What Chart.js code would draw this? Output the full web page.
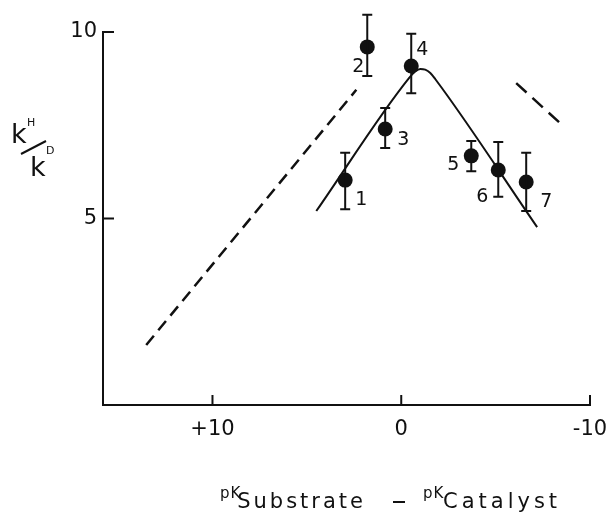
<!DOCTYPE html>
<html>
<head>
<meta charset="utf-8">
<script src="https://cdn.jsdelivr.net/npm/chart.js@4"></script>
<style>
  html, body { margin: 0; padding: 0; background: #fff; }
  #wrap { width: 608px; height: 512px; }
</style>
</head>
<body>
<div id="wrap"><canvas id="chart" width="608" height="512"></canvas></div>
<script>
// 測定点（番号・x・y・誤差範囲）
const pointLabels = ['1', '2', '3', '4', '5', '6', '7'];
const pointX = [2.97, 1.80, 0.85, -0.53, -3.71, -5.14, -6.62];
const pointY = [6.03, 9.60, 7.40, 9.09, 6.68, 6.30, 5.98];
const errHigh = [6.76, 10.46, 7.96, 9.95, 7.08, 7.05, 6.76];
const errLow = [5.25, 8.82, 6.89, 8.36, 6.27, 5.58, 5.20];

// 実線（理論曲線）
const fitX = [4.50, -0.42, -0.74, -1.01, -1.27, -1.54, -1.80, -7.20];
const fitY = [5.20, 8.77, 8.94, 9.01, 8.99, 8.90, 8.74, 4.77];

// 破線
const dashLeftX = [13.51, 2.38];
const dashLeftY = [1.61, 8.45];
const dashRightX = [-6.09, -8.58];
const dashRightY = [8.63, 7.48];

// 目盛り
const xTickValues = [10, 0, -10];
const yTickValues = [5, 10];

function toPoints(xs, ys) {
    return xs.map((x, i) => ({ x: x, y: ys[i] }));
}

const FONT = 'DejaVu Sans, sans-serif';
const INK = '#111';

// 誤差棒
const errorBarPlugin = {
    id: 'errorBars',
    afterDatasetsDraw(chart) {
        const ctx = chart.ctx;
        const xs = chart.scales.x, ys = chart.scales.y;
        ctx.save();
        ctx.strokeStyle = INK;
        ctx.lineWidth = 2;
        pointX.forEach((x, i) => {
            const px = xs.getPixelForValue(x);
            const top = ys.getPixelForValue(errHigh[i]);
            const bot = ys.getPixelForValue(errLow[i]);
            ctx.beginPath();
            ctx.moveTo(px, top); ctx.lineTo(px, bot);
            ctx.moveTo(px - 5, top); ctx.lineTo(px + 5, top);
            ctx.moveTo(px - 5, bot); ctx.lineTo(px + 5, bot);
            ctx.stroke();
        });
        ctx.restore();
    }
};

// 点の番号
const numberPlugin = {
    id: 'pointNumbers',
    afterDatasetsDraw(chart, args, opts) {
        const ctx = chart.ctx;
        const meta = chart.getDatasetMeta(0);
        ctx.save();
        ctx.fillStyle = INK;
        ctx.font = '19px ' + FONT;
        ctx.textAlign = 'center';
        ctx.textBaseline = 'middle';
        meta.data.forEach((el, i) => {
            const off = opts.offsets[i];
            ctx.fillText(pointLabels[i], el.x + off[0], el.y + off[1]);
        });
        ctx.restore();
    }
};

// 内向きの目盛り線と軸タイトル
const axisDecorPlugin = {
    id: 'axisDecor',
    afterDraw(chart) {
        const ctx = chart.ctx;
        const xs = chart.scales.x, ys = chart.scales.y;
        const area = chart.chartArea;
        ctx.save();
        ctx.strokeStyle = INK;
        ctx.lineWidth = 2;
        ctx.beginPath();
        xTickValues.forEach(v => {
            const px = xs.getPixelForValue(v);
            ctx.moveTo(px, area.bottom); ctx.lineTo(px, area.bottom - 10);
        });
        yTickValues.forEach(v => {
            const py = ys.getPixelForValue(v);
            ctx.moveTo(area.left, py); ctx.lineTo(area.left + 11, py);
        });
        ctx.stroke();

        // y軸タイトル k^H / k^D
        ctx.fillStyle = INK;
        ctx.textBaseline = 'alphabetic';
        ctx.textAlign = 'left';
        ctx.font = '27px ' + FONT;
        ctx.fillText('k', 11, 143);
        ctx.fillText('k', 30, 176);
        ctx.font = '11px ' + FONT;
        ctx.fillText('H', 27, 126);
        ctx.fillText('D', 46, 154);
        ctx.beginPath();
        ctx.moveTo(21, 154); ctx.lineTo(46, 141);
        ctx.stroke();

        // x軸タイトル
        ctx.letterSpacing = '3px';
        ctx.font = '21px ' + FONT;
        ctx.textAlign = 'right';
        ctx.fillText('Substrate', 366, 508);
        ctx.textAlign = 'left';
        ctx.letterSpacing = '4px';
        ctx.fillText('Catalyst', 443, 508);
        ctx.letterSpacing = '1px';
        ctx.font = '15px ' + FONT;
        ctx.fillText('pK', 220, 498);
        ctx.fillText('pK', 423, 498);
        ctx.letterSpacing = '0px';
        ctx.beginPath();
        ctx.moveTo(393, 502); ctx.lineTo(405, 502);
        ctx.stroke();
        ctx.restore();
    }
};

window.onload = function () {
    const ctx = document.getElementById('chart').getContext('2d');

    new Chart(ctx, {
        type: 'scatter',
        data: {
            datasets: [
                {
                    label: 'points',
                    data: toPoints(pointX, pointY),
                    pointRadius: 7.5,
                    pointBackgroundColor: INK,
                    pointBorderWidth: 0,
                    showLine: false,
                    order: 0
                },
                {
                    label: 'fit',
                    data: toPoints(fitX, fitY),
                    showLine: true,
                    borderColor: INK,
                    borderWidth: 2,
                    pointRadius: 0,
                    cubicInterpolationMode: 'monotone',
                    order: 1
                },
                {
                    label: 'dashLeft',
                    data: toPoints(dashLeftX, dashLeftY),
                    showLine: true,
                    borderColor: INK,
                    borderWidth: 2.5,
                    borderDash: [12, 7],
                    pointRadius: 0,
                    order: 2
                },
                {
                    label: 'dashRight',
                    data: toPoints(dashRightX, dashRightY),
                    showLine: true,
                    borderColor: INK,
                    borderWidth: 2.5,
                    borderDash: [14, 8],
                    pointRadius: 0,
                    order: 2
                }
            ]
        },
        options: {
            responsive: false,
            animation: false,
            clip: false,
            layout: { padding: { top: 32, right: 18, left: 0, bottom: 0 } },
            plugins: {
                legend: { display: false },
                tooltip: { enabled: false },
                pointNumbers: {
                    offsets: [[16, 20], [-9, 20], [18, 11], [11, -16], [-18, 9], [-16, 27], [20, 20]]
                }
            },
            scales: {
                x: {
                    type: 'linear',
                    reverse: true,
                    min: -10,
                    max: 15.8,
                    afterBuildTicks: s => { s.ticks = xTickValues.map(v => ({ value: v })); },
                    afterFit: s => { s.height = 107; s.paddingLeft = 0; s.paddingRight = 0; },
                    grid: { display: false, drawTicks: false },
                    border: { display: true, color: INK, width: 2 },
                    ticks: {
                        color: INK,
                        padding: 12,
                        font: { size: 21, family: FONT },
                        callback: v => (v > 0 ? '+' + v : String(v))
                    }
                },
                y: {
                    type: 'linear',
                    min: 0,
                    max: 10,
                    afterBuildTicks: s => { s.ticks = yTickValues.map(v => ({ value: v })); },
                    afterFit: s => { s.width = 103; s.paddingTop = 0; s.paddingBottom = 0; },
                    grid: { display: false, drawTicks: false },
                    border: { display: true, color: INK, width: 2 },
                    ticks: {
                        color: INK,
                        padding: 6,
                        font: { size: 21, family: FONT }
                    }
                }
            }
        },
        plugins: [errorBarPlugin, numberPlugin, axisDecorPlugin]
    });
};
</script>
</body>
</html>
